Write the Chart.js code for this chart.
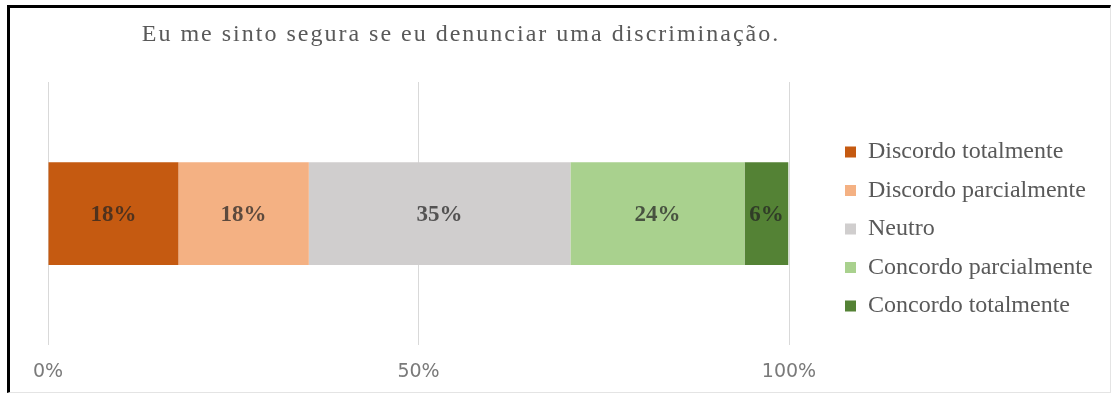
<!DOCTYPE html>
<html lang="pt">
<head>
<meta charset="utf-8">
<title>Eu me sinto segura se eu denunciar uma discriminação.</title>
<script src="https://cdn.jsdelivr.net/npm/chart.js@4/dist/chart.umd.min.js"></script>
<style>
    html, body { margin: 0; padding: 0; background: #fff; }
    .quadro {
        position: absolute;
        left: 7px;
        top: 5px;
        width: 1100px;
        height: 384px;
        border-top: 3px solid #000;
        border-left: 3px solid #000;
        border-right: 1px solid #e4e4e4;
        border-bottom: 1px solid #e4e4e4;
        background: #fff;
    }
    canvas { display: block; }
</style>
</head>
<body>
<div class="quadro">
    <canvas id="grafico" width="1100" height="384"></canvas>
</div>
<script>
// respostas (% do total)
const categorias = ['Eu me sinto segura se eu denunciar uma discriminação.'];
const respostas = ['Discordo totalmente', 'Discordo parcialmente', 'Neutro', 'Concordo parcialmente', 'Concordo totalmente'];
const percentuais = [17.6, 17.6, 35.3, 23.5, 5.9];
const cores = ['#C55A11', '#F4B183', '#D0CECE', '#A9D18E', '#548235'];
const marcasEixo = [0, 50, 100];

const SERIFA = '"Liberation Serif", "Times New Roman", serif';

// rótulos de porcentagem no meio de cada segmento
const rotulosBarras = {
    id: 'rotulosBarras',
    afterDatasetsDraw(chart) {
        const ctx = chart.ctx;
        ctx.save();
        ctx.font = 'bold 23px ' + SERIFA;
        ctx.fillStyle = 'rgba(35, 35, 35, 0.72)';
        ctx.textAlign = 'center';
        ctx.textBaseline = 'middle';
        chart.data.datasets.forEach((ds, i) => {
            chart.getDatasetMeta(i).data.forEach((barra, j) => {
                const p = barra.getCenterPoint();
                ctx.fillText(Math.round(ds.data[j]) + '%', p.x, p.y + 1);
            });
        });
        ctx.restore();
    }
};

// título espaçado (deslocado para a esquerda) e legenda com largura fixa
const ajustes = {
    id: 'ajustes',
    afterInit(chart) {
        const titulo = chart.titleBlock;
        const desenhaTitulo = titulo.draw;
        titulo.draw = function (area) {
            this.ctx.save();
            this.ctx.letterSpacing = '2px';
            this.ctx.translate(-118, 0);
            desenhaTitulo.call(this, area);
            this.ctx.restore();
        };
        const legenda = chart.legend;
        const encaixa = legenda.fit;
        legenda.fit = function () {
            encaixa.call(this);
            this.width = 279.5;
        };
    }
};

const ctx = document.getElementById('grafico').getContext('2d');
const grafico = new Chart(ctx, {
    type: 'bar',
    data: {
        labels: categorias,
        datasets: respostas.map((r, i) => ({
            label: r,
            data: [percentuais[i]],
            backgroundColor: cores[i],
            borderWidth: 0,
            barPercentage: 0.39,
            categoryPercentage: 1
        }))
    },
    options: {
        indexAxis: 'y',
        responsive: false,
        animation: false,
        layout: {
            padding: { left: 38, right: 0, top: 0, bottom: -6 }
        },
        plugins: {
            title: {
                display: true,
                text: categorias[0],
                color: '#595959',
                font: { family: SERIFA, size: 24, weight: 'normal', lineHeight: 1.2 },
                padding: { top: 12.8, bottom: 32.4 }
            },
            legend: {
                position: 'right',
                fullSize: false,
                align: 'center',
                title: {
                    display: true,
                    text: '',
                    font: { size: 1, lineHeight: 1 },
                    padding: { top: 30, bottom: 0 }
                },
                labels: {
                    color: '#595959',
                    font: { family: SERIFA, size: 24 },
                    boxWidth: 11,
                    boxHeight: 11,
                    padding: 14.5
                }
            },
            tooltip: { enabled: false }
        },
        scales: {
            x: {
                stacked: true,
                min: 0,
                max: 100,
                afterBuildTicks(scale) {
                    scale.ticks = marcasEixo.map(v => ({ value: v }));
                },
                ticks: {
                    color: '#7a7a7a',
                    padding: 15,
                    font: { family: '"DejaVu Sans", sans-serif', size: 19 },
                    callback: v => v + '%'
                },
                grid: { color: '#d9d9d9', drawTicks: false },
                border: { display: false }
            },
            y: {
                stacked: true,
                display: false
            },
            folga: {
                axis: 'y',
                type: 'category',
                position: 'right',
                grid: { display: false },
                ticks: { display: false },
                border: { display: false },
                afterFit(scale) {
                    scale.width = 41.5;
                }
            }
        }
    },
    plugins: [rotulosBarras, ajustes]
});
</script>
</body>
</html>
